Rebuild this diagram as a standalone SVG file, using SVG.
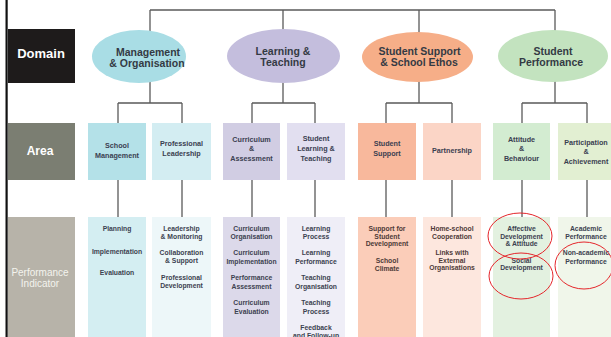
<svg xmlns="http://www.w3.org/2000/svg" width="611" height="337" viewBox="0 0 611 337">
  <style>
    .wire { fill: none; stroke: #5a5a5a; stroke-width: 1.3; }
    .dom { font-family: "Liberation Sans", Arial, sans-serif; font-weight: bold; font-size: 10.5px; fill: #343a44; text-anchor: middle; }
    .area { font-family: "Liberation Sans", Arial, sans-serif; font-weight: bold; font-size: 7.2px; fill: #3a4050; text-anchor: middle; }
    .pi { font-family: "Liberation Sans", Arial, sans-serif; font-weight: bold; font-size: 6.8px; fill: #3c4250; text-anchor: middle; }
    .pi.warm { fill: #4e3a38; }
    .rowlab { font-family: "Liberation Sans", Arial, sans-serif; font-weight: bold; fill: #ffffff; text-anchor: middle; }
    .rowlab.plain { font-weight: normal; font-size: 10px; fill: #f4f3ee; }
    .mark { fill: none; stroke: #e5262b; stroke-width: 1; }
  </style>

  <rect x="0" y="0" width="611" height="337" fill="#ffffff"/>
  <!-- left page rule -->
  <rect x="5.5" y="0" width="2.2" height="337" fill="#111111"/>

  <!-- row labels -->
  <g id="label-domain">
    <rect x="8" y="29" width="67" height="54" fill="#1e1b1b"/>
    <text class="rowlab" x="41" y="57.5" font-size="13">Domain</text>
  </g>
  <g id="label-area">
    <rect x="8" y="123" width="67" height="57" fill="#7b7e72"/>
    <text class="rowlab" x="40" y="154.5" font-size="12" fill="#eceee6">Area</text>
  </g>
  <g id="label-indicator">
    <rect x="8" y="217" width="67" height="120" fill="#b7b3a9"/>
    <text class="rowlab plain" x="40" y="275.5">Performance</text>
    <text class="rowlab plain" x="40" y="286.5">Indicator</text>
  </g>

  <!-- connectors -->
  <g id="connectors" class="wire">
    <path d="M150 10 H555"/>
    <path d="M150 10 V103 M118 103 H182 M118 103 V123 M182 103 V123"/>
    <path d="M283 10 V103 M252 103 H315 M252 103 V123 M315 103 V123"/>
    <path d="M419 10 V103 M386 103 H452 M386 103 V123 M452 103 V123"/>
    <path d="M555 10 V103 M522 103 H587 M522 103 V123 M587 103 V123"/>
    <path d="M118 180 V217 M182 180 V217 M252 180 V217 M315 180 V217 M386 180 V217 M452 180 V217 M522 180 V217 M587 180 V217"/>
  </g>

  <!-- domains -->
  <g id="domain-management">
    <ellipse cx="139" cy="56.5" rx="47" ry="26.5" fill="#a9dde5"/>
    <text class="dom" x="148" y="55.5">Management</text>
    <text class="dom" x="147" y="66.5">&amp; Organisation</text>
  </g>
  <g id="domain-learning">
    <ellipse cx="283.5" cy="56" rx="56.5" ry="27" fill="#c4bedd"/>
    <text class="dom" x="283" y="54.5">Learning &amp;</text>
    <text class="dom" x="283" y="65.5">Teaching</text>
  </g>
  <g id="domain-support">
    <ellipse cx="417.5" cy="57" rx="55.5" ry="25" fill="#f6ae88"/>
    <text class="dom" x="419.5" y="55">Student Support</text>
    <text class="dom" x="419" y="66">&amp; School Ethos</text>
  </g>
  <g id="domain-performance">
    <ellipse cx="553" cy="56" rx="55" ry="26" fill="#c3e3bf"/>
    <text class="dom" x="553" y="55">Student</text>
    <text class="dom" x="551" y="66">Performance</text>
  </g>

  <!-- areas -->
  <g id="area-school-management">
    <rect x="88" y="123" width="58" height="57" fill="#b4e1e8"/>
    <text class="area" x="117" y="148">School</text>
    <text class="area" x="117" y="158">Management</text>
  </g>
  <g id="area-professional-leadership">
    <rect x="152" y="123" width="59" height="57" fill="#d3edf2"/>
    <text class="area" x="181.5" y="145.5">Professional</text>
    <text class="area" x="181.5" y="155.5">Leadership</text>
  </g>
  <g id="area-curriculum">
    <rect x="223" y="123" width="57" height="57" fill="#d1cde3"/>
    <text class="area" x="251.5" y="141.5">Curriculum</text>
    <text class="area" x="251.5" y="151">&amp;</text>
    <text class="area" x="251.5" y="160.5">Assessment</text>
  </g>
  <g id="area-student-learning">
    <rect x="287" y="123" width="58" height="57" fill="#e2dff0"/>
    <text class="area" x="316" y="140.5">Student</text>
    <text class="area" x="316" y="150.5">Learning &amp;</text>
    <text class="area" x="316" y="160.5">Teaching</text>
  </g>
  <g id="area-student-support">
    <rect x="358" y="123" width="58" height="57" fill="#f8b89c"/>
    <text class="area" x="387" y="145.5">Student</text>
    <text class="area" x="387" y="155.5">Support</text>
  </g>
  <g id="area-partnership">
    <rect x="423" y="123" width="58" height="57" fill="#fbd5c6"/>
    <text class="area" x="452" y="152.5">Partnership</text>
  </g>
  <g id="area-attitude">
    <rect x="493" y="123" width="57" height="57" fill="#d3ecd1"/>
    <text class="area" x="521.5" y="141.5">Attitude</text>
    <text class="area" x="521.5" y="151">&amp;</text>
    <text class="area" x="521.5" y="160.5">Behaviour</text>
  </g>
  <g id="area-participation">
    <rect x="558" y="123" width="57" height="57" fill="#e2efd2"/>
    <text class="area" x="586" y="144.5">Participation</text>
    <text class="area" x="586" y="153.5">&amp;</text>
    <text class="area" x="586" y="163.5">Achievement</text>
  </g>

  <!-- performance indicators -->
  <g id="pi-school-management">
    <rect x="88" y="217" width="58" height="120" fill="#d4eef2"/>
    <text class="pi" x="117" y="230.5">Planning</text>
    <text class="pi" x="117" y="254">Implementation</text>
    <text class="pi" x="117" y="275">Evaluation</text>
  </g>
  <g id="pi-professional-leadership">
    <rect x="152" y="217" width="59" height="120" fill="#edf7f9"/>
    <text class="pi" x="181.5" y="230.5">Leadership</text>
    <text class="pi" x="181.5" y="238.5">&amp; Monitoring</text>
    <text class="pi" x="181.5" y="255">Collaboration</text>
    <text class="pi" x="181.5" y="263">&amp; Support</text>
    <text class="pi" x="181.5" y="279.5">Professional</text>
    <text class="pi" x="181.5" y="288">Development</text>
  </g>
  <g id="pi-curriculum">
    <rect x="223" y="217" width="57" height="120" fill="#dcd9ea"/>
    <text class="pi" x="251.5" y="230.5">Curriculum</text>
    <text class="pi" x="251.5" y="239">Organisation</text>
    <text class="pi" x="251.5" y="255">Curriculum</text>
    <text class="pi" x="251.5" y="263.5">Implementation</text>
    <text class="pi" x="251.5" y="280">Performance</text>
    <text class="pi" x="251.5" y="288.5">Assessment</text>
    <text class="pi" x="251.5" y="305">Curriculum</text>
    <text class="pi" x="251.5" y="313.5">Evaluation</text>
  </g>
  <g id="pi-student-learning">
    <rect x="287" y="217" width="58" height="120" fill="#efeef7"/>
    <text class="pi" x="316" y="230.5">Learning</text>
    <text class="pi" x="316" y="239">Process</text>
    <text class="pi" x="316" y="255">Learning</text>
    <text class="pi" x="316" y="263.5">Performance</text>
    <text class="pi" x="316" y="280">Teaching</text>
    <text class="pi" x="316" y="288.5">Organisation</text>
    <text class="pi" x="316" y="305">Teaching</text>
    <text class="pi" x="316" y="313.5">Process</text>
    <text class="pi" x="316" y="329.5">Feedback</text>
    <text class="pi" x="316" y="337.5">and Follow-up</text>
  </g>
  <g id="pi-student-support">
    <rect x="358" y="217" width="58" height="120" fill="#fbcdb9"/>
    <text class="pi warm" x="387" y="230.5">Support for</text>
    <text class="pi warm" x="387" y="238.5">Student</text>
    <text class="pi warm" x="387" y="246">Development</text>
    <text class="pi warm" x="387" y="263">School</text>
    <text class="pi warm" x="387" y="271">Climate</text>
  </g>
  <g id="pi-partnership">
    <rect x="423" y="217" width="58" height="120" fill="#fde7de"/>
    <text class="pi warm" x="452" y="230.5">Home-school</text>
    <text class="pi warm" x="452" y="238.5">Cooperation</text>
    <text class="pi warm" x="452" y="255">Links with</text>
    <text class="pi warm" x="452" y="262.5">External</text>
    <text class="pi warm" x="452" y="270">Organisations</text>
  </g>
  <g id="pi-attitude">
    <rect x="493" y="217" width="57" height="120" fill="#e3f1e0"/>
    <text class="pi" x="521.5" y="230.5">Affective</text>
    <text class="pi" x="521.5" y="238.5">Development</text>
    <text class="pi" x="521.5" y="245.5">&amp; Attitude</text>
    <text class="pi" x="521.5" y="262.5">Social</text>
    <text class="pi" x="521.5" y="270">Development</text>
  </g>
  <g id="pi-participation">
    <rect x="558" y="217" width="57" height="120" fill="#f0f6ea"/>
    <text class="pi" x="586" y="230.5">Academic</text>
    <text class="pi" x="586" y="238.5">Performance</text>
    <text class="pi" x="586" y="255">Non-academic</text>
    <text class="pi" x="586" y="263.5">Performance</text>
  </g>

  <!-- hand-drawn highlight rings -->
  <g id="highlights" class="mark">
    <ellipse cx="520" cy="236" rx="32" ry="23"/>
    <ellipse cx="521" cy="276" rx="32" ry="23"/>
    <ellipse cx="584" cy="265.5" rx="29" ry="23.5"/>
  </g>
</svg>
